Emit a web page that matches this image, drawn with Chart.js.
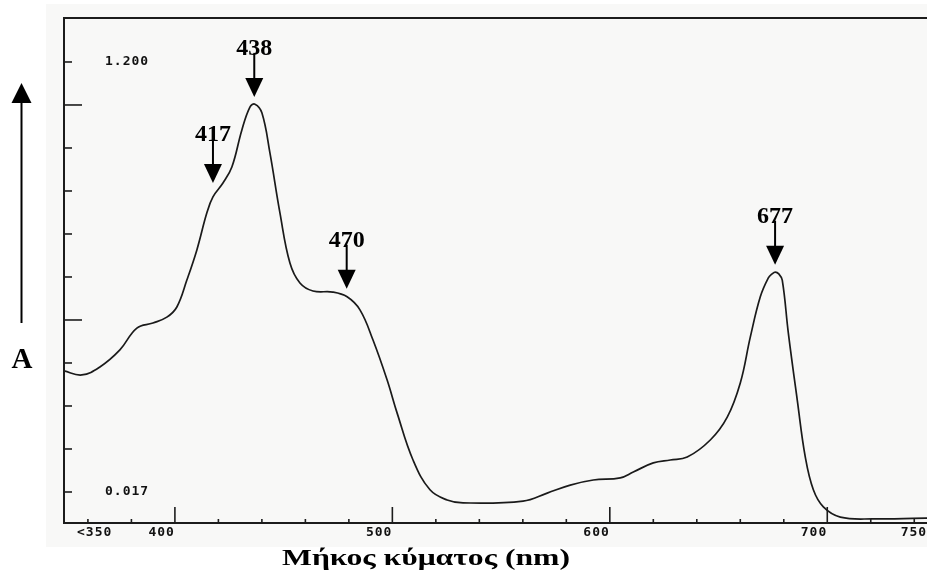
<!DOCTYPE html>
<html lang="el">
<head>
    <meta charset="UTF-8">
    <title>Φάσμα απορρόφησης</title>
    <script src="https://cdn.jsdelivr.net/npm/chart.js"></script>
    <style>
        html, body {
            margin: 0;
            padding: 0;
            background: #fff;
            overflow: hidden;
        }
        .wrap {
            position: relative;
            width: 927px;
            height: 584px;
            overflow: hidden;
        }
        canvas {
            position: absolute;
            left: 0;
            top: 0;
        }
    </style>
</head>
<body>
    <div class="wrap">
        <canvas id="spectrum" width="960" height="584"></canvas>
    </div>

    <script>
        // spectrum (nm / absorbance)
        const wavelength = [349, 357.2, 365.5, 374.7, 382.5, 389.9, 396.3, 400.9, 405.5, 410.1,
            414.7, 417.5, 422.1, 426.2, 430.8, 434.5, 436.8, 440.0, 443.7, 448.3,
            452.9, 457.5, 463.5, 472.7, 479.2, 485.1, 491.1, 497.6, 502.2, 509.5,
            517.3, 525.2, 532.5, 560.1, 571.2, 581.8, 592.4, 604.8, 610.8, 620.0,
            627.8, 635.6, 646.2, 654.0, 660.0, 664.6, 669.2, 672.9, 674.6, 676.1,
            677.7, 679.3, 682.1, 686.2, 689.9, 693.6, 698.2, 706.0, 721.2, 750];
        const absorbance = [0.350, 0.339, 0.361, 0.408, 0.468, 0.482, 0.498, 0.526, 0.600, 0.683,
            0.785, 0.829, 0.867, 0.911, 1.013, 1.076, 1.084, 1.060, 0.950, 0.785,
            0.647, 0.592, 0.570, 0.567, 0.554, 0.518, 0.435, 0.325, 0.234, 0.105,
            0.023, -0.005, -0.013, -0.008, 0.014, 0.036, 0.050, 0.056, 0.072, 0.097,
            0.105, 0.113, 0.160, 0.223, 0.317, 0.443, 0.554, 0.606, 0.617, 0.622,
            0.617, 0.600, 0.454, 0.270, 0.113, 0.023, -0.024, -0.052, -0.057, -0.054];

        // peak markers
        const peakText = ["417", "438", "470", "677"];
        const peakX = [417.5, 436.5, 479, 676];
        const peakTipY = [0.867, 1.104, 0.576, 0.642];

        // axis ticks
        const yTicks = [0.017, 0.1353, 0.2536, 0.3719, 0.4902, 0.6085, 0.7268, 0.8451, 0.9634, 1.0817, 1.200];
        const yLongTicks = [0.4902, 1.0817];
        const yLabelValues = [1.200, 0.017];
        const yLabelText = ["1.200", "0.017"];
        const xMajorTicks = [400, 500, 600, 700];
        const xMinorTicks = [360, 380, 420, 440, 460, 480, 520, 540, 560, 580,
            620, 640, 660, 680, 720, 740];
        const xLabelValues = [355, 400, 500, 600, 700, 750];
        const xLabelText = ["<350", "400", "500", "600", "700", "750>"];
        const xLabelAlign = ["left", "right", "right", "right", "right", "right"];

        const xTitle = "Μήκος κύματος (nm)";
        const yTitle = "A";

        const plotterFrame = {
            id: "plotterFrame",
            beforeDraw(chart) {
                const ctx = chart.ctx;
                ctx.save();
                ctx.fillStyle = "#ffffff";
                ctx.fillRect(0, 0, chart.width, chart.height);
                ctx.fillStyle = "#f8f8f7";
                ctx.fillRect(46, 4, chart.width - 46, 543);
                ctx.restore();
            },
            afterDatasetsDraw(chart) {
                const ctx = chart.ctx;
                const a = chart.chartArea;
                const x = chart.scales.x, y = chart.scales.y;
                ctx.save();

                // frame: top, left, bottom
                ctx.strokeStyle = "#1c1c1c";
                ctx.lineWidth = 2;
                ctx.beginPath();
                ctx.moveTo(a.right, a.top);
                ctx.lineTo(a.left, a.top);
                ctx.lineTo(a.left, a.bottom);
                ctx.lineTo(a.right, a.bottom);
                ctx.stroke();

                // ticks pointing into the plot
                ctx.lineWidth = 1.6;
                yTicks.forEach(v => {
                    const py = y.getPixelForValue(v);
                    const len = yLongTicks.includes(v) ? 18 : 8;
                    ctx.beginPath();
                    ctx.moveTo(a.left, py);
                    ctx.lineTo(a.left + len, py);
                    ctx.stroke();
                });
                xMinorTicks.forEach(v => {
                    const px = x.getPixelForValue(v);
                    ctx.beginPath();
                    ctx.moveTo(px, a.bottom);
                    ctx.lineTo(px, a.bottom - 4);
                    ctx.stroke();
                });
                xMajorTicks.forEach(v => {
                    const px = x.getPixelForValue(v);
                    ctx.beginPath();
                    ctx.moveTo(px, a.bottom);
                    ctx.lineTo(px, a.bottom - 16);
                    ctx.stroke();
                });

                // plotter labels
                ctx.fillStyle = "#111";
                ctx.font = "bold 13px 'DejaVu Sans Mono'";
                ctx.letterSpacing = "1px";
                ctx.textBaseline = "middle";
                ctx.textAlign = "left";
                yLabelValues.forEach((v, i) => {
                    ctx.fillText(yLabelText[i], a.left + 41, y.getPixelForValue(v));
                });
                xLabelValues.forEach((v, i) => {
                    ctx.textAlign = xLabelAlign[i];
                    ctx.fillText(xLabelText[i], x.getPixelForValue(v), a.bottom + 10);
                });
                ctx.letterSpacing = "0px";

                // peak arrows
                ctx.fillStyle = "#000";
                ctx.strokeStyle = "#000";
                ctx.font = "bold 24px 'Liberation Serif'";
                ctx.textAlign = "center";
                ctx.textBaseline = "alphabetic";
                peakText.forEach((t, i) => {
                    const px = x.getPixelForValue(peakX[i]);
                    const py = y.getPixelForValue(peakTipY[i]);
                    ctx.fillText(t, px, py - 42);
                    ctx.lineWidth = 2;
                    ctx.beginPath();
                    ctx.moveTo(px, py - 44);
                    ctx.lineTo(px, py - 18);
                    ctx.stroke();
                    ctx.beginPath();
                    ctx.moveTo(px - 9, py - 19);
                    ctx.lineTo(px + 9, py - 19);
                    ctx.lineTo(px, py);
                    ctx.closePath();
                    ctx.fill();
                });

                // "A" with the upward arrow
                ctx.lineWidth = 2;
                ctx.beginPath();
                ctx.moveTo(21.5, 323);
                ctx.lineTo(21.5, 100);
                ctx.stroke();
                ctx.beginPath();
                ctx.moveTo(11.5, 103);
                ctx.lineTo(31.5, 103);
                ctx.lineTo(21.5, 83);
                ctx.closePath();
                ctx.fill();
                ctx.font = "bold 29px 'Liberation Serif'";
                ctx.fillText(yTitle, 22, 368);

                // axis title, stretched to the scanned width
                ctx.font = "bold 24px 'Liberation Serif'";
                ctx.textAlign = "left";
                const w = ctx.measureText(xTitle).width;
                ctx.translate(282, 565);
                ctx.scale(288 / w, 1);
                ctx.fillText(xTitle, 0, 0);

                ctx.restore();
            }
        };

        const points = wavelength.map((w, i) => ({ x: w, y: absorbance[i] }));

        new Chart(document.getElementById("spectrum"), {
            type: "line",
            data: {
                datasets: [{
                    data: points,
                    borderColor: "#1a1a1a",
                    borderWidth: 1.7,
                    pointRadius: 0,
                    tension: 0.4,
                    fill: false
                }]
            },
            options: {
                responsive: false,
                animation: false,
                layout: { padding: { left: 64, top: 18, right: 24, bottom: 61 } },
                plugins: { legend: { display: false }, tooltip: { enabled: false } },
                scales: {
                    x: { type: "linear", min: 349, max: 750, display: false },
                    y: { min: -0.0683, max: 1.321, display: false }
                }
            },
            plugins: [plotterFrame]
        });
    </script>
</body>
</html>
